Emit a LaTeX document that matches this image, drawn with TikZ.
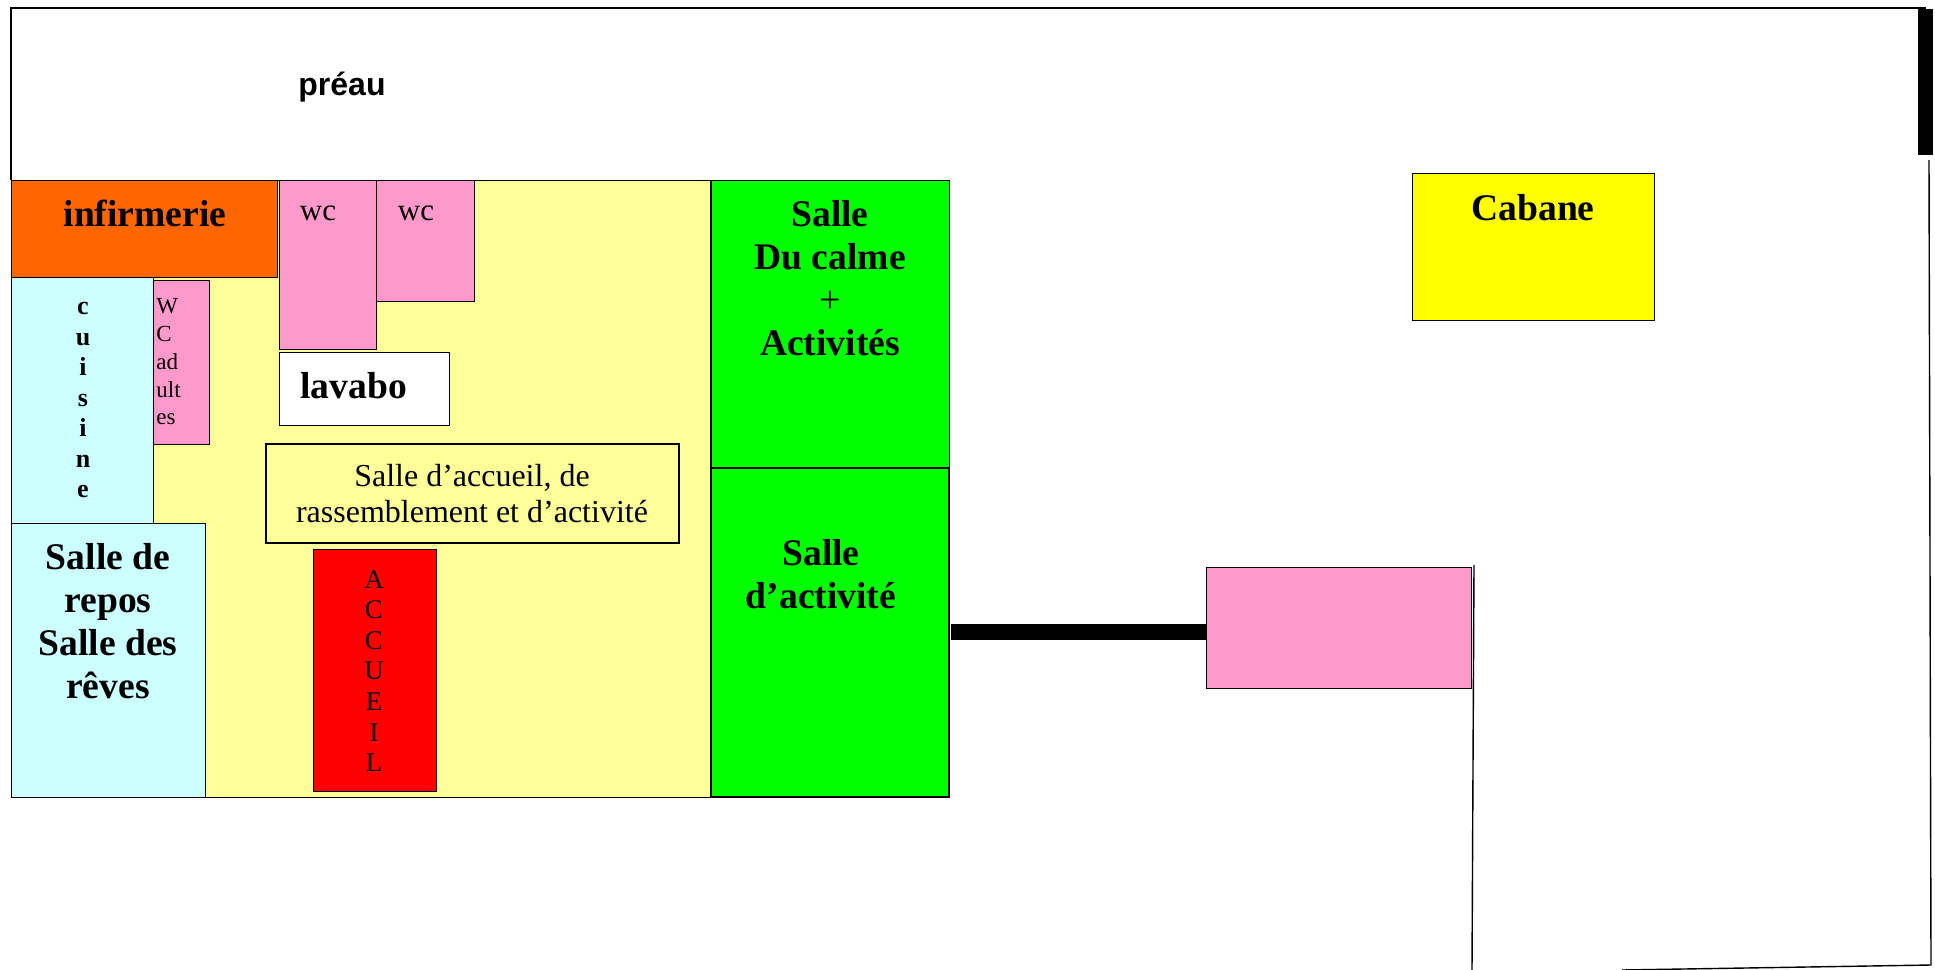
\documentclass[tikz,border=0pt]{standalone}
\usepackage{fontspec}
\setmainfont{Liberation Serif}
\newfontfamily\arialfont{Liberation Sans}
\definecolor{hallCol}{RGB}{255,255,153}
\definecolor{wcCol}{RGB}{255,153,204}
\definecolor{kitchenCol}{RGB}{204,255,255}
\definecolor{nurseCol}{RGB}{255,102,0}
\definecolor{greenCol}{RGB}{0,255,0}
\definecolor{hutCol}{RGB}{255,255,0}
\definecolor{deskCol}{RGB}{255,0,0}
\tikzset{myRoom/.style={draw=black, line width=0.5pt}}
\tikzset{myWall/.style={color=black, line width=0.7pt}}
\tikzset{myBold/.style={font=\fontsize{18.8}{21.5}\selectfont\bfseries, align=center, inner sep=0pt}}
\tikzset{myText/.style={font=\fontsize{16}{18}\selectfont, align=center, inner sep=0pt}}
\tikzset{myLetter/.style={anchor=base, inner sep=0pt}}
\begin{document}
\begin{tikzpicture}[x=0.5pt, y=-0.5pt]
	\useasboundingbox (0,0) rectangle (1935,970);

	% outer walls
	\draw[myWall](11,180)--(11,8)--(1926,8);
	\draw[myWall](1929,160)--(1931,965)--(1622,970);
	\draw[myWall](1474,565)--(1472,970);
	\fill[black](1918,9) rectangle (1933,155);

	% rooms
	\filldraw[myRoom, fill=hallCol](11,180) rectangle (710,797);
	\filldraw[myRoom, fill=nurseCol](11,180) rectangle (277,277);
	\filldraw[myRoom, fill=kitchenCol](11,277) rectangle (153,523);
	\filldraw[myRoom, fill=kitchenCol](11,523) rectangle (205,797);
	\filldraw[myRoom, fill=wcCol](153,280) rectangle (209,444);
	\filldraw[myRoom, fill=wcCol](279,180) rectangle (376,349);
	\filldraw[myRoom, fill=wcCol](376,180) rectangle (474,301);
	\filldraw[myRoom, fill=white](279,352) rectangle (449,425);
	\filldraw[myRoom, line width=0.7pt, fill=hallCol](266,444) rectangle (679,543);
	\filldraw[myRoom, fill=deskCol](313,549) rectangle (436,791);
	\filldraw[myRoom, fill=greenCol](711,180) rectangle (949,468);
	\filldraw[myRoom, line width=0.9pt, fill=greenCol](711,468) rectangle (949,797);
	\filldraw[myRoom, fill=hutCol](1412,173) rectangle (1654,320);
	\coordinate (pathStart) at (951,632);
	\coordinate (pathEnd) at (1206,632);
	\draw[line width=8pt](pathStart)--(pathEnd);
	\filldraw[myRoom, fill=wcCol](1206,567) rectangle (1471,688);

	% labels
	\node[anchor=base, inner sep=0pt, font=\arialfont\fontsize{16}{18}\selectfont\bfseries] (preau) at (342,95) {préau};
	\node[myBold, anchor=base] (infirmerie) at (145,226) {infirmerie};
	\node[myBold, anchor=base west] (lavabo) at (300,398) {lavabo};
	\node[myBold] (repos) at (108,621) {Salle de\\repos\\Salle des\\rêves};
	\node[myBold] (calme) at (830,278) {Salle\\Du calme\\{\normalfont +}\\Activités};
	\node[myBold] (activite) at (821,574) {Salle\\d’activité};
	\node[myBold, anchor=base] (cabane) at (1533,220) {Cabane};
	\node[myText, font=\fontsize{15.5}{18}\selectfont, anchor=base] (wcA) at (318,220) {wc};
	\node[myText, font=\fontsize{15.5}{18}\selectfont, anchor=base] (wcB) at (416,220) {wc};
	\node[myText] (accueil) at (472,494) {Salle d’accueil, de\\rassemblement et d’activité};

	\foreach \c [count=\i] in {c,u,i,s,i,n,e}{
		\node[myLetter, font=\fontsize{13}{15}\selectfont\bfseries] (cuisine\i) at (83,{314.5+30.5*(\i-1)}) {\c};
	}
	\foreach \c [count=\i] in {A,C,C,U,E,I,L}{
		\node[myLetter, font=\fontsize{13.5}{15}\selectfont] (desk\i) at (374,{588+30.6*(\i-1)}) {\c};
	}
	\foreach \c/\y [count=\i] in {W/313,C/341,ad/369,ult/397,es/424}{
		\node[myLetter, anchor=base west, font=\fontsize{11.5}{13}\selectfont] (adult\i) at (156,\y) {\c};
	}
\end{tikzpicture}
\end{document}
